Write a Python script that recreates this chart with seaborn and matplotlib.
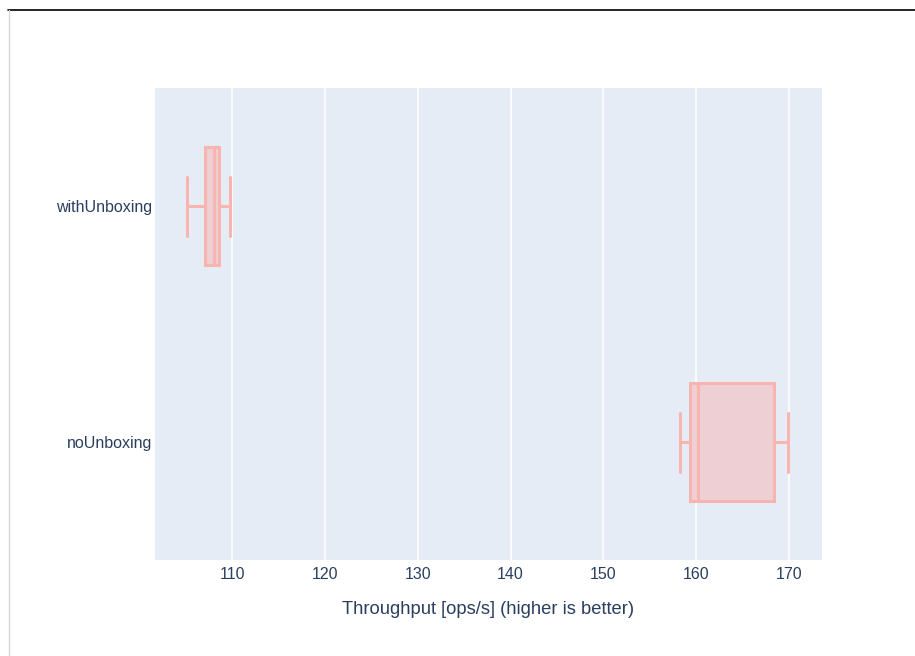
import matplotlib
matplotlib.use("Agg")
import matplotlib.pyplot as plt
import seaborn as sns
import pandas as pd
from matplotlib.lines import Line2D

# five-number summaries: min, q1, median, q3, max
benchmarks = ["withUnboxing", "noUnboxing"]
with_unboxing = [105.12, 107.03, 107.97, 108.54, 109.73]
no_unboxing = [158.25, 159.3, 160.2, 168.4, 169.96]

df = pd.DataFrame({
    "benchmark": [benchmarks[0]] * len(with_unboxing) + [benchmarks[1]] * len(no_unboxing),
    "throughput": with_unboxing + no_unboxing,
})

sns.set_style("white")
plt.rcParams["font.family"] = ["Liberation Sans", "DejaVu Sans"]

TEXT = "#2a3f5f"
LINE = "#F8B4AE"
FILL = "#EDCFD4"

fig = plt.figure(figsize=(9.15, 6.56), dpi=100)
ax = fig.add_axes([155 / 915, 1 - 560 / 656, (822 - 155) / 915, (560 - 88) / 656])
ax.set_facecolor("#E5ECF6")

sns.boxplot(
    data=df, x="throughput", y="benchmark", order=benchmarks,
    orient="h", width=0.5, whis=100, color=FILL, linecolor=LINE,
    linewidth=2.2, fliersize=0, ax=ax,
)
for patch in ax.patches:
    patch.set_facecolor(FILL)
    patch.set_edgecolor(LINE)

ax.set_xlim(101.64, 173.59)
ax.set_ylim(1.5, -0.5)
ax.set_xticks([110, 120, 130, 140, 150, 160, 170])
ax.grid(axis="x", color="white", linewidth=1.1)
ax.set_axisbelow(True)
for s in ax.spines.values():
    s.set_visible(False)
ax.tick_params(axis="both", length=0, labelsize=11.5, colors=TEXT)
ax.tick_params(axis="x", pad=5)
ax.tick_params(axis="y", pad=2)
ax.set_ylabel("")
ax.set_xlabel("Throughput [ops/s] (higher is better)", fontsize=13.2, color=TEXT, labelpad=14)

# screenshot frame lines
fig.add_artist(Line2D([8 / 915, 1], [1 - 9.5 / 656] * 2, color="black", linewidth=1.2))
fig.add_artist(Line2D([8.5 / 915] * 2, [0, 1 - 10 / 656], color="#d8d8d8", linewidth=1))

fig.savefig("out.png", dpi=100)
